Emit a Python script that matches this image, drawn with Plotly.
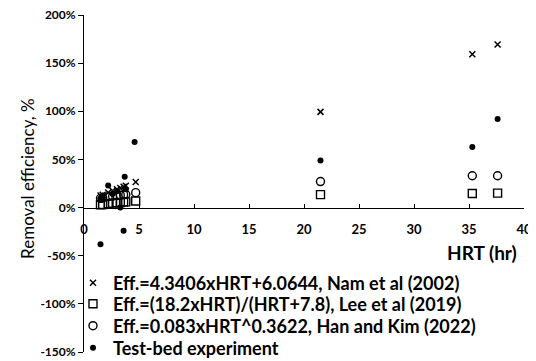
import plotly.graph_objects as go

# Model predictions
hrt = [1.5, 1.7, 2.2, 2.6, 3.0, 3.3, 3.6, 3.8, 4.7, 21.5, 35.3, 37.6]
nam = [12.6, 13.4, 15.6, 17.4, 19.1, 20.4, 21.7, 22.6, 26.5, 99.4, 159.3, 169.3]
lee = [3.0, 3.2, 4.0, 4.6, 5.0, 5.3, 5.7, 5.9, 6.8, 13.4, 14.6, 15.0]
han = [9.6, 10.0, 11.4, 11.8, 12.6, 12.9, 13.4, 13.6, 15.5, 27.0, 33.0, 33.0]

# Test-bed experiment
tb_hrt = [1.5, 1.5, 1.7, 2.2, 2.6, 3.0, 3.3, 3.6, 3.7, 3.8, 4.6, 21.5, 35.3, 37.6]
tb_eff = [-38, 8, 10, 23, 14, 17, 0, -24, 32, 19, 68, 49, 63, 92]

names = [
    "Eff.=4.3406xHRT+6.0644, Nam et al (2002)",
    "Eff.=(18.2xHRT)/(HRT+7.8), Lee et al (2019)",
    "Eff.=0.083xHRT^0.3622, Han and Kim (2022)",
    "Test-bed experiment",
]
y_ticks = [-150, -100, -50, 0, 50, 100, 150, 200]
x_ticks = [0, 5, 10, 15, 20, 25, 30, 35, 40]

FONT = "Lato"
fig = go.Figure()
fig.add_trace(go.Scatter(x=hrt, y=nam, mode="markers", name=names[0], legend="legend",
                         marker=dict(symbol="x-thin", size=6, line=dict(color="black", width=1.5))))
fig.add_trace(go.Scatter(x=hrt, y=lee, mode="markers", name=names[1], legend="legend2",
                         marker=dict(symbol="square-open", size=8, color="black", line=dict(width=1.4))))
fig.add_trace(go.Scatter(x=hrt, y=han, mode="markers", name=names[2], legend="legend3",
                         marker=dict(symbol="circle-open", size=8, color="black", line=dict(width=1.4))))
fig.add_trace(go.Scatter(x=tb_hrt, y=tb_eff, mode="markers", name=names[3], legend="legend4",
                         marker=dict(symbol="circle", size=6, color="black")))

leg_common = dict(xanchor="left", yanchor="middle", bgcolor="rgba(0,0,0,0)",
                  font=dict(size=18, family=FONT, weight="bold", color="black"),
                  itemwidth=30)
leg_x = -0.025
leg_rows = [0.2047, 0.1424, 0.0772, 0.0119]

fig.update_layout(
    width=528, height=353,
    margin=dict(l=76, r=12, t=7, b=9, autoexpand=False),
    paper_bgcolor="white", plot_bgcolor="white",
    font=dict(family=FONT, color="black"),
    showlegend=True,
    legend=dict(x=leg_x, y=leg_rows[0], **leg_common),
    legend2=dict(x=leg_x, y=leg_rows[1], **leg_common),
    legend3=dict(x=leg_x, y=leg_rows[2], **leg_common),
    legend4=dict(x=leg_x, y=leg_rows[3], **leg_common),
    xaxis=dict(range=[0, 40], tickvals=x_ticks, ticktext=[str(v) for v in x_ticks],
               showgrid=False, zeroline=False, showline=True, linecolor="black", linewidth=1,
               ticks="inside", ticklen=4, tickcolor="black", automargin=False,
               anchor="free", position=150 / 350, ticklabelstandoff=10,
               ticklabeloverflow="allow",
               tickfont=dict(size=13, family=FONT, weight="bold")),
    yaxis=dict(range=[-150, 200], tickvals=y_ticks, ticktext=[f"{v}%" for v in y_ticks],
               showgrid=False, zeroline=False, showline=True, linecolor="black", linewidth=1,
               ticks="outside", ticklen=5, tickcolor="black", automargin=False,
               ticklabeloverflow="allow",
               tickfont=dict(size=12, family=FONT, weight="bold")),
    annotations=[
        dict(text="HRT (hr)", x=39.5, y=-46.5, xref="x", yref="y", xanchor="right",
             yanchor="middle", showarrow=False, font=dict(size=19, family=FONT, weight="bold")),
        dict(text="Removal efficiency, %", x=-0.13, y=0.516, xref="paper", yref="paper",
             textangle=-90, showarrow=False, xanchor="center", yanchor="middle",
             font=dict(size=17, family=FONT)),
    ],
)

fig.write_html("out.html")
